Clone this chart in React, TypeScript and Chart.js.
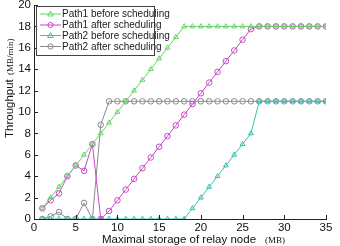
import React, { useEffect, useRef } from "react";
import { Chart, registerables } from "chart.js";

Chart.register(...registerables);

const xValues = [1, 2, 3, 4, 5, 6, 7, 8, 9, 10, 11, 12, 13, 14, 15, 16, 17, 18, 19, 20, 21, 22, 23, 24, 25, 26, 27, 28, 29, 30, 31, 32, 33, 34, 35];
const path1Before = [1, 2, 3, 4, 5, 6, 7, 8, 9, 10, 11, 12, 13, 14, 15, 16, 17, 18, 18, 18, 18, 18, 18, 18, 18, 18, 18, 18, 18, 18, 18, 18, 18, 18, 18];
const path1After = [1, 1.75, 2.4, 4, 5, 4.5, 7, 0, 0.75, 1.75, 2.75, 3.75, 4.75, 5.75, 6.75, 7.75, 8.75, 9.75, 10.75, 11.75, 12.75, 13.75, 14.75, 15.75, 16.75, 17.75, 18, 18, 18, 18, 18, 18, 18, 18, 18];
const path2Before = [0, 0, 0, 0, 0, 0, 0, 0, 0, 0, 0, 0, 0, 0, 0, 0, 0, 0, 1, 2, 3, 4, 5, 6, 7, 8, 11, 11, 11, 11, 11, 11, 11, 11, 11];
const path2After = [0, 0.25, 0.65, 0, 0, 1.5, 0, 8.8, 11, 11, 11, 11, 11, 11, 11, 11, 11, 11, 11, 11, 11, 11, 11, 11, 11, 11, 11, 11, 11, 11, 11, 11, 11, 11, 11];

const seriesNames = ["Path1 before scheduling", "Path1 after scheduling", "Path2 before scheduling", "Path2 after scheduling"];
const seriesValues = [path1Before, path1After, path2Before, path2After];
const seriesColors = ["#66d466", "#c848c8", "#3ebdb0", "#8a8a8a"];
const seriesMarkers = ["triangle", "circle", "triangle", "circle"];

const xTicks = [0, 5, 10, 15, 20, 25, 30, 35];
const yTicks = [0, 2, 4, 6, 8, 10, 12, 14, 16, 18, 20];

const SANS = "'Liberation Sans', Arial, sans-serif";
const SERIF = "'Liberation Serif', 'DejaVu Serif', serif";

function drawMarker(ctx: CanvasRenderingContext2D, style: string, x: number, y: number, r: number) {
  ctx.beginPath();
  if (style === "triangle") {
    const h = r * 1.5;
    ctx.moveTo(x, y - h * 0.75);
    ctx.lineTo(x + r * 1.1, y + h * 0.5);
    ctx.lineTo(x - r * 1.1, y + h * 0.5);
    ctx.closePath();
  } else {
    ctx.arc(x, y, r, 0, Math.PI * 2);
  }
  ctx.stroke();
}

const overlayPlugin = {
  id: "overlay",
  afterDraw(chart: any) {
    const ctx: CanvasRenderingContext2D = chart.ctx;
    const xs = chart.scales.x;
    const ys = chart.scales.y;
    const area = chart.chartArea;
    ctx.save();
    // inward ticks
    ctx.strokeStyle = "#222";
    ctx.lineWidth = 1;
    ctx.beginPath();
    for (const t of xTicks) {
      const px = Math.round(xs.getPixelForValue(t)) + 0.5;
      ctx.moveTo(px, area.bottom);
      ctx.lineTo(px, area.bottom - 4);
    }
    for (const t of yTicks) {
      const py = Math.round(ys.getPixelForValue(t)) + 0.5;
      ctx.moveTo(area.left, py);
      ctx.lineTo(area.left + 4, py);
    }
    ctx.stroke();

    // x title
    ctx.fillStyle = "#111";
    ctx.textBaseline = "alphabetic";
    ctx.font = `11.5px ${SANS}`;
    ctx.textAlign = "left";
    ctx.fillText("Maximal storage of relay node", 102, 243);
    ctx.font = `9px ${SERIF}`;
    ctx.fillText("(MB)", 265, 243);

    // y title
    ctx.save();
    ctx.translate(13, 138);
    ctx.rotate(-Math.PI / 2);
    ctx.font = `11.5px ${SANS}`;
    ctx.textAlign = "left";
    ctx.fillText("Throughput", 0, 0);
    ctx.font = `9px ${SERIF}`;
    ctx.fillText("(MB/min)", 63, 0);
    ctx.restore();

    // legend
    const lx = 36.5, ly = 6.5, lw = 118, lh = 49;
    ctx.fillStyle = "#fff";
    ctx.fillRect(lx, ly, lw, lh);
    ctx.strokeStyle = "#444";
    ctx.lineWidth = 1;
    ctx.strokeRect(lx, ly, lw, lh);
    const rowY = [14, 25, 35.5, 46.5];
    ctx.font = `10px ${SANS}`;
    ctx.textBaseline = "middle";
    ctx.textAlign = "left";
    for (let i = 0; i < seriesNames.length; i++) {
      const y = rowY[i];
      ctx.strokeStyle = seriesColors[i];
      ctx.beginPath();
      ctx.moveTo(40, y);
      ctx.lineTo(61, y);
      ctx.stroke();
      drawMarker(ctx, seriesMarkers[i], 50.5, y, 2.6);
      ctx.fillStyle = "#222";
      ctx.fillText(seriesNames[i], 62, y + 0.5);
    }
    ctx.restore();
  },
};

export default function App() {
  const ref = useRef<HTMLCanvasElement | null>(null);
  useEffect(() => {
    document.body.style.margin = "0";
    const canvas = ref.current;
    if (!canvas) return;
    const datasets = seriesNames.map((name, i) => ({
      label: name,
      data: xValues.map((x, j) => ({ x, y: seriesValues[i][j] })),
      borderColor: seriesColors[i],
      backgroundColor: "transparent",
      pointBackgroundColor: "transparent",
      pointBorderColor: seriesColors[i],
      pointStyle: seriesMarkers[i],
      pointRadius: 2.8,
      pointBorderWidth: 1,
      borderWidth: 1,
      tension: 0,
    }));
    const chart = new Chart(canvas, {
      type: "line",
      data: { datasets },
      options: {
        responsive: false,
        animation: false,
        maintainAspectRatio: false,
        layout: { padding: { top: 3, right: 14, left: 0, bottom: 0 } },
        plugins: { legend: { display: false }, tooltip: { enabled: false } },
        scales: {
          x: {
            type: "linear",
            min: 0,
            max: 35,
            afterFit: (s: any) => { s.height = 27; s.paddingLeft = 0; s.paddingRight = 0; },
            afterBuildTicks: (s: any) => { s.ticks = xTicks.map((v) => ({ value: v })); },
            grid: { display: false, drawTicks: false },
            border: { display: true, color: "#222", width: 1 },
            ticks: { padding: 2, color: "#111", font: { family: SANS, size: 11.5 }, maxRotation: 0, autoSkip: false },
          },
          y: {
            type: "linear",
            min: 0,
            max: 20,
            afterFit: (s: any) => { s.width = 34; s.paddingTop = 0; s.paddingBottom = 0; },
            afterBuildTicks: (s: any) => { s.ticks = yTicks.map((v) => ({ value: v })); },
            grid: { display: false, drawTicks: false },
            border: { display: true, color: "#222", width: 1 },
            ticks: { padding: 3, color: "#111", font: { family: SANS, size: 11.5 }, autoSkip: false },
          },
        },
      },
      plugins: [overlayPlugin],
    });
    return () => chart.destroy();
  }, []);
  return (
    <div style={{ width: 340, height: 246, background: "#fff" }}>
      <canvas ref={ref} width={340} height={246} />
    </div>
  );
}
